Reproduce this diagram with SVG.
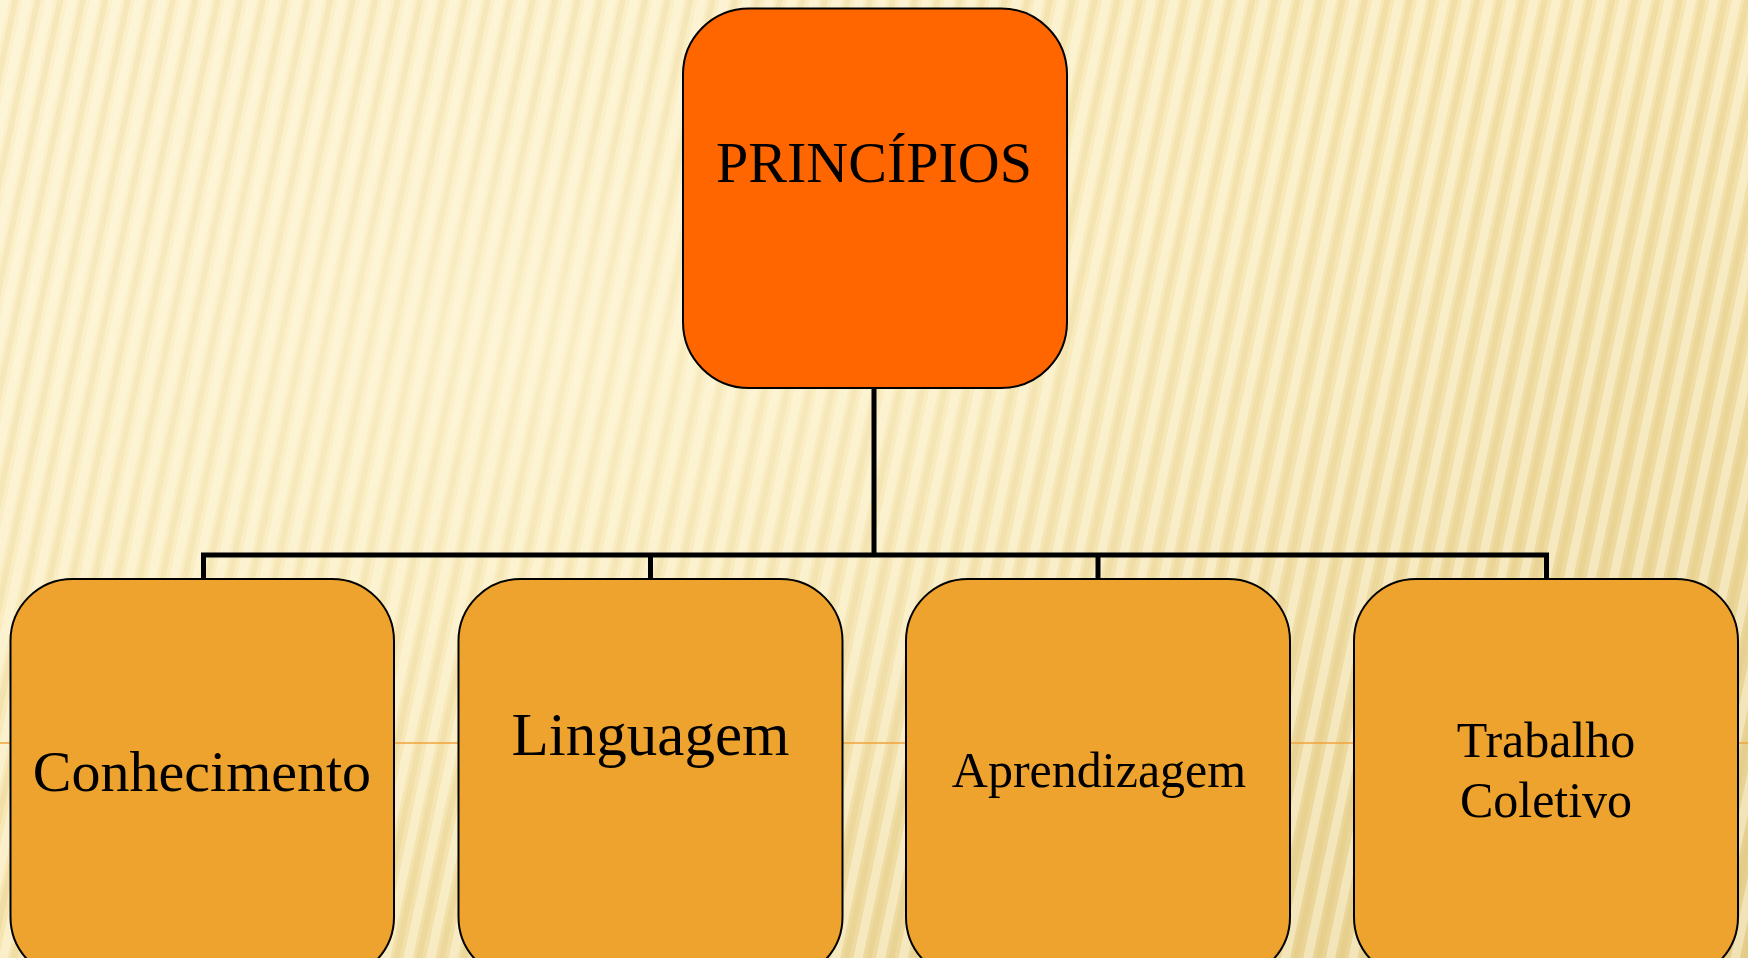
<svg xmlns="http://www.w3.org/2000/svg" width="1748" height="958" viewBox="0 0 1748 958">
  <defs>
    <linearGradient id="bg" x1="0" y1="0" x2="1" y2="1">
      <stop offset="0" stop-color="#FBEFC8"/>
      <stop offset="0.45" stop-color="#F7E7B4"/>
      <stop offset="1" stop-color="#E5CE8C"/>
    </linearGradient>
    <pattern id="stripes" width="22" height="40" patternUnits="userSpaceOnUse" patternTransform="rotate(12)">
      <rect x="0" y="0" width="9" height="40" fill="#FFFBE8" opacity="0.45"/>
      <rect x="12" y="0" width="6" height="40" fill="#D9BE72" opacity="0.22"/>
    </pattern>
    <radialGradient id="glow" cx="0.3" cy="0.35" r="0.6">
      <stop offset="0" stop-color="#FFF8DC" stop-opacity="0.55"/>
      <stop offset="1" stop-color="#FFF8DC" stop-opacity="0"/>
    </radialGradient>
    <style>
      .box { stroke: #000; stroke-width: 2; }
      .top { fill: #FF6600; }
      .child { fill: #EEA32F; }
      .lbl { font-family: "Liberation Serif", "Times New Roman", serif; fill: #000; text-anchor: middle; }
      .conn { fill: none; stroke: #000; stroke-width: 5; }
    </style>
  </defs>

  <g id="background">
    <rect x="0" y="0" width="1748" height="958" fill="url(#bg)"/>
    <rect x="0" y="0" width="1748" height="958" fill="url(#stripes)"/>
    <rect x="0" y="0" width="1748" height="958" fill="url(#glow)"/>
    <line x1="0" y1="743" x2="1748" y2="743" stroke="#F0A23A" stroke-width="1.5"/>
  </g>

  <g id="connectors">
    <path class="conn" d="M874 388 V555"/>
    <path class="conn" d="M203.5 579 V555 H1546.5 V579"/>
    <path class="conn" d="M650.5 555 V579"/>
    <path class="conn" d="M1098 555 V579"/>
  </g>

  <g id="node-principios">
    <rect class="box top" x="683" y="8.5" width="384" height="379.5" rx="66" ry="66"/>
    <text class="lbl" x="874" y="182" font-size="58">PRINCÍPIOS</text>
  </g>

  <g id="node-conhecimento">
    <rect class="box child" x="10.5" y="579" width="383.5" height="400" rx="62" ry="62"/>
    <text class="lbl" x="202" y="791" font-size="58">Conhecimento</text>
  </g>

  <g id="node-linguagem">
    <rect class="box child" x="458.5" y="579" width="384" height="400" rx="62" ry="62"/>
    <text class="lbl" x="650.5" y="755" font-size="61">Linguagem</text>
  </g>

  <g id="node-aprendizagem">
    <rect class="box child" x="906" y="579" width="384" height="400" rx="62" ry="62"/>
    <text class="lbl" x="1099" y="787" font-size="50">Aprendizagem</text>
  </g>

  <g id="node-trabalho">
    <rect class="box child" x="1354" y="579" width="384" height="400" rx="62" ry="62"/>
    <text class="lbl" x="1546" y="757" font-size="50">Trabalho</text>
    <text class="lbl" x="1546" y="817" font-size="50">Coletivo</text>
  </g>
</svg>
